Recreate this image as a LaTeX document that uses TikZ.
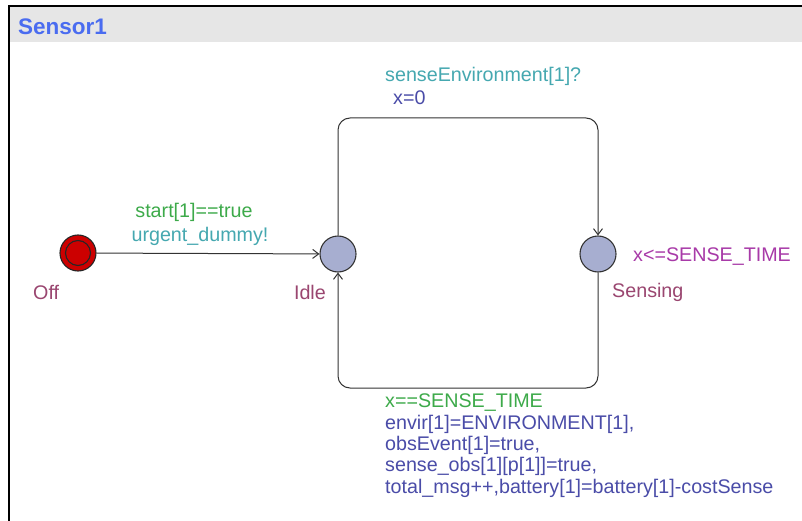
\documentclass[tikz,border=0pt]{standalone}
\usepackage{fontspec}
\setmainfont{Liberation Sans}
\usetikzlibrary{arrows.meta}
\definecolor{hdrbg}{HTML}{E6E6E6}
\definecolor{hdrtxt}{HTML}{4A6CF0}
\definecolor{guardc}{HTML}{3DAA4A}
\definecolor{syncc}{HTML}{45A8B0}
\definecolor{assignc}{HTML}{4A4CA8}
\definecolor{invc}{HTML}{A83AA8}
\definecolor{namec}{HTML}{9A4670}
\definecolor{locfill}{HTML}{A7AED0}
\definecolor{initfill}{HTML}{CC0000}
\tikzset{
  x=1pt, y=-1pt,
  lbl/.style={inner sep=0pt, font=\fontsize{19.7}{21.3}\selectfont},
  loc/.style={circle, draw=black!80, fill=locfill, line width=1.1pt, minimum size=36pt, inner sep=0pt},
  initloc/.style={circle, draw=black!85, fill=initfill, line width=1.1pt, minimum size=36pt, inner sep=0pt},
  ring/.style={draw=black!85, line width=1.1pt},
  edge/.style={draw=black!80, line width=1pt, -{Straight Barb[length=6pt,width=9pt]}},
}
\begin{document}
\begin{tikzpicture}
\useasboundingbox (0,0) rectangle (802,521);
% frame and title bar
\fill[white] (0,0) rectangle (802,521);
\fill[hdrbg] (9,7) rectangle (802,42);
\draw[black, line width=2pt] (9,521) -- (9,6) -- (802,6);
\node[lbl, anchor=west, font=\fontsize{22.5}{24}\bfseries\selectfont, text=hdrtxt] (title) at (18,27) {Sensor1};

% locations
\node[initloc] (off) at (78,253) {};
\draw[ring] (off.center) circle (12.5pt);
\node[loc] (idle) at (338,254) {};
\node[loc] (sensing) at (598,254) {};

\node[lbl, text=namec, anchor=west] (offname) at (33,292) {Off};
\node[lbl, text=namec, anchor=east] (idlename) at (326,292) {Idle};
\node[lbl, text=namec, anchor=west] (sensname) at (612,292) {Sensing};
\node[lbl, text=invc, anchor=west] (inv) at (633,257) {x<=SENSE\_TIME};

% edges
\coordinate (tl) at (338,118);
\coordinate (tr) at (598,118);
\coordinate (bl) at (338,388);
\coordinate (br) at (598,388);
\draw[edge] (off) -- (idle);
\draw[edge, rounded corners=12pt] (idle.north) -- (tl) -- (tr) -- (sensing.north);
\draw[edge, rounded corners=12pt] (sensing.south) -- (br) -- (bl) -- (idle.south);

% edge labels
\node[lbl, text=guardc] (g1) at (194,212) {start[1]==true};
\node[lbl, text=syncc] (s1) at (200,236) {urgent\_dummy!};
\node[lbl, text=syncc, anchor=west] (s2) at (385,76) {senseEnvironment[1]?};
\node[lbl, text=assignc, anchor=west] (a2) at (393,98) {x=0};
\node[lbl, anchor=north west, align=left] (upd) at (385,394)
  {\textcolor{guardc}{x==SENSE\_TIME}\\
   \textcolor{assignc}{envir[1]=ENVIRONMENT[1],}\\
   \textcolor{assignc}{obsEvent[1]=true,}\\
   \textcolor{assignc}{sense\_obs[1][p[1]]=true,}\\
   \textcolor{assignc}{total\_msg++,battery[1]=battery[1]-costSense}};
\end{tikzpicture}
\end{document}
